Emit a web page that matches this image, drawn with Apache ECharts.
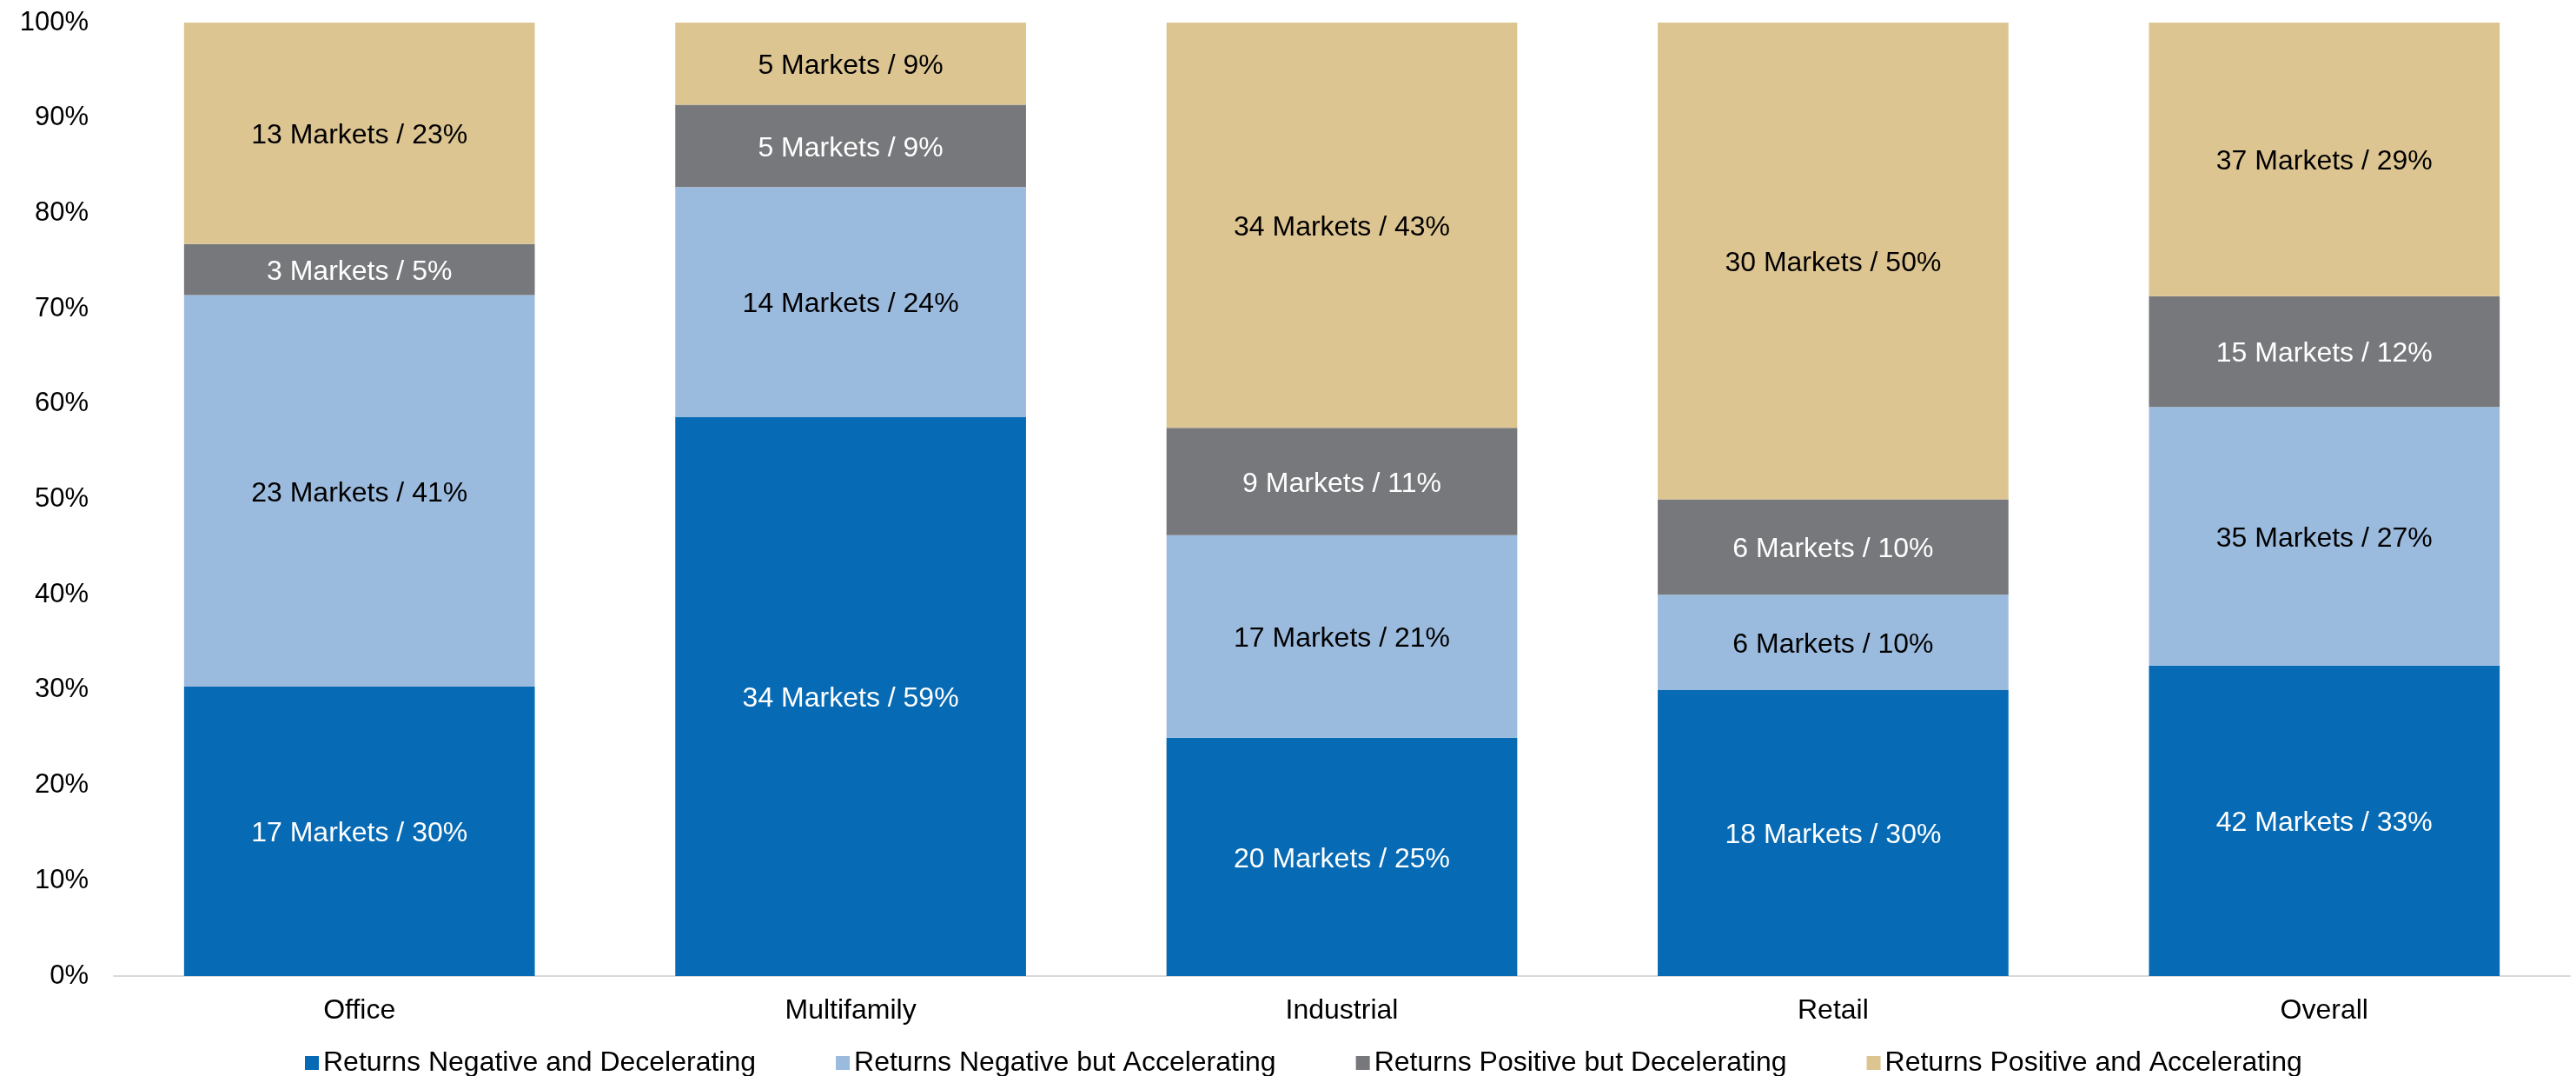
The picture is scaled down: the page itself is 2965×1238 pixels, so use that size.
<!DOCTYPE html>
<html>
<head>
<meta charset="utf-8">
<script src="https://cdn.jsdelivr.net/npm/echarts@6/dist/echarts.min.js"></script>
<style>
  html, body { margin: 0; padding: 0; background: #ffffff; }
  #chart { width: 2965px; height: 1238px; }
</style>
</head>
<body>
<div id="chart"></div>
<script>
// Property sectors along the x axis
const categories = ['Office', 'Multifamily', 'Industrial', 'Retail', 'Overall'];

// Number of markets in each return regime, per sector
const negDecelerating = [17, 34, 20, 18, 42];
const negAccelerating = [23, 14, 17, 6, 35];
const posDecelerating = [3, 5, 9, 6, 15];
const posAccelerating = [13, 5, 34, 30, 37];

const seriesNames = [
  'Returns Negative and Decelerating',
  'Returns Negative but Accelerating',
  'Returns Positive but Decelerating',
  'Returns Positive and Accelerating'
];
const yTicks = [0, 10, 20, 30, 40, 50, 60, 70, 80, 90, 100];

const counts = [negDecelerating, negAccelerating, posDecelerating, posAccelerating];
const colors = ['#066AB4', '#9BBBDE', '#77787B', '#DDC592'];
const labelColors = ['#ffffff', '#000000', '#ffffff', '#000000'];

// Market totals per sector, used to turn counts into 100% shares
const totals = categories.map((_, i) => counts.reduce((s, arr) => s + arr[i], 0));

const FONT = '"Liberation Sans", Arial, sans-serif';

const series = counts.map((arr, k) => ({
  name: seriesNames[k],
  type: 'bar',
  stack: 'share',
  barCategoryGap: '28.6%',
  itemStyle: { color: colors[k] },
  emphasis: { disabled: true },
  label: {
    show: true,
    position: 'inside',
    offset: [0, 3],
    color: labelColors[k],
    fontFamily: FONT,
    fontSize: 32,
    formatter: p => {
      const n = arr[p.dataIndex];
      return n + ' Markets / ' + Math.round(n * 100 / totals[p.dataIndex]) + '%';
    }
  },
  data: arr.map((n, i) => n * 100 / totals[i])
}));

const chart = echarts.init(document.getElementById('chart'), null, { renderer: 'canvas' });
chart.setOption({
  animation: false,
  backgroundColor: '#ffffff',
  textStyle: { fontFamily: FONT },
  grid: { left: 131, right: 7, top: 26, bottom: 115, containLabel: false },
  legend: {
    data: seriesNames,
    left: 346,
    top: 1202,
    icon: 'rect',
    itemWidth: 16,
    itemHeight: 16,
    itemGap: 92,
    textStyle: { fontFamily: FONT, fontSize: 32, color: '#000000' },
    selectedMode: false
  },
  xAxis: {
    type: 'category',
    data: categories,
    axisLine: { show: true, lineStyle: { color: '#D9D9D9', width: 2 } },
    axisTick: { show: false },
    axisLabel: { fontFamily: FONT, fontSize: 32, color: '#000000', margin: 24 }
  },
  yAxis: {
    type: 'value',
    min: yTicks[0],
    max: yTicks[yTicks.length - 1],
    interval: 10,
    axisLine: { show: false },
    axisTick: { show: false },
    splitLine: { show: false },
    axisLabel: {
      fontFamily: FONT,
      fontSize: 31,
      color: '#000000',
      margin: 29,
      padding: [5, 0, 0, 0],
      formatter: v => v + '%'
    }
  },
  series: series
});
</script>
</body>
</html>
